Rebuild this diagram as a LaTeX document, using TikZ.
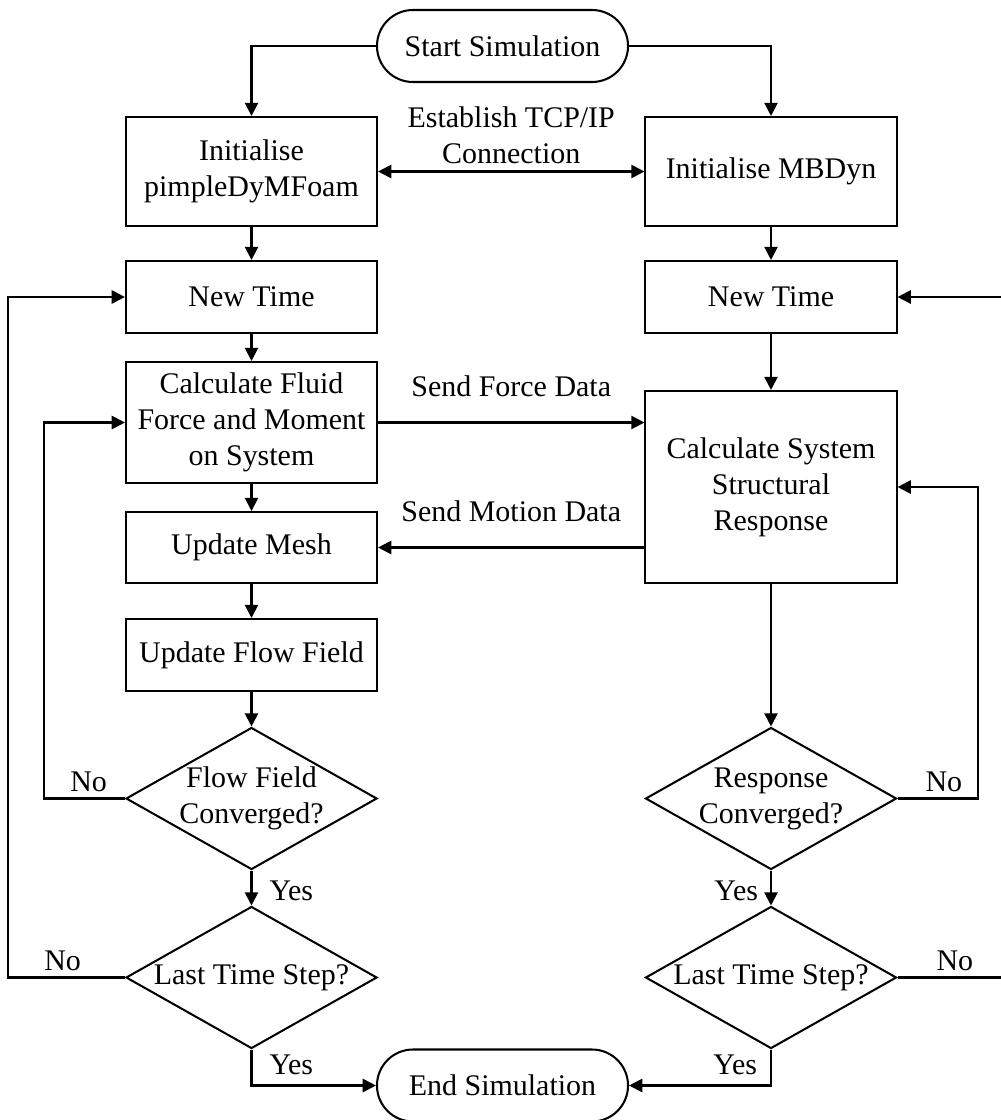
\documentclass[tikz,border=0pt]{standalone}
\usepackage{fontspec}
\setmainfont{Liberation Serif}
\usetikzlibrary{arrows.meta,shapes.geometric}

\begin{document}
\begin{tikzpicture}[x=0.025cm, y=-0.025cm,
        line width=1.45pt,
        font=\fontsize{21.3}{25.6}\selectfont,
        >={Triangle[length=0.33cm, width=0.33cm]},
        procbox/.style={draw, rectangle, align=center, inner sep=0pt, minimum width=6.275cm},
        termbox/.style={draw, rectangle, rounded corners=0.9cm, minimum width=6.275cm, minimum height=1.8cm},
        decbox/.style={draw, diamond, aspect=1.76, align=center, inner sep=-0.1cm, minimum width=6.275cm, minimum height=3.55cm},
        lbl/.style={inner sep=0pt, align=center}]
        % page size
        \path[use as bounding box, fill=white] (0,0) rectangle (1001,1120);
        \def\colL{251.5}
        \def\colR{771}
        \def\colM{502.5}

        % start and end
        \node[termbox] (start) at (\colM,46) {Start Simulation};
        \node[termbox] (stop) at (\colM,1085.5) {End Simulation};

        % fluid solver
        \node[procbox, minimum height=2.725cm] (initL) at (\colL,171.5) {Initialise\\pimpleDyMFoam};
        \node[procbox, minimum height=1.8cm] (timeL) at (\colL,297) {New Time};
        \node[procbox, minimum height=3.025cm] (fluid) at (\colL,422.5) {Calculate Fluid\\Force and Moment\\on System};
        \node[procbox, minimum height=1.775cm] (mesh) at (\colL,547.5) {Update Mesh};
        \node[procbox, minimum height=1.8cm] (flow) at (\colL,655) {Update Flow Field};
        \node[decbox] (convL) at (\colL,798.5) {Flow Field\\Converged?};
        \node[decbox] (lastL) at (\colL,977.5) {Last Time Step?};

        % structural solver
        \node[procbox, minimum height=2.725cm] (initR) at (\colR,171.5) {Initialise MBDyn};
        \node[procbox, minimum height=1.8cm] (timeR) at (\colR,297) {New Time};
        \node[procbox, minimum height=4.8cm] (solid) at (\colR,487) {Calculate System\\Structural\\Response};
        \node[decbox] (convR) at (\colR,798.5) {Response\\Converged?};
        \node[decbox] (lastR) at (\colR,977.5) {Last Time Step?};

        \draw[->] (start.west) -| (initL.north);
        \draw[->] (start.east) -| (initR.north);
        \draw[<->] (initL) -- (initR) node[lbl, midway, above=0.175cm] {Establish TCP/IP\\Connection};

        % left column
        \draw[->] (initL) -- (timeL);
        \draw[->] (timeL) -- (fluid);
        \draw[->] (fluid) -- (mesh);
        \draw[->] (mesh) -- (flow);
        \draw[->] (flow) -- (convL);
        \draw[->] (convL) -- (lastL) node[lbl, pos=1, anchor=south west, xshift=0.425cm, yshift=0.1cm] {Yes};

        % right column
        \draw[->] (initR) -- (timeR);
        \draw[->] (timeR) -- (solid);
        \draw[->] (solid) -- (convR);
        \draw[->] (convR) -- (lastR) node[lbl, pos=1, anchor=south east, xshift=-0.3cm, yshift=0.1cm] {Yes};

        % data exchange
        \draw[->] (fluid.east) -- (fluid.east -| solid.west) node[lbl, midway, above=0.625cm] {Send Force Data};
        \draw[->] (solid.west |- mesh.east) -- (mesh.east) node[lbl, midway, above=0.625cm] {Send Motion Data};

        % loops back
        \draw[->] (convL.west) node[lbl, anchor=south east, xshift=-0.425cm, yshift=0.15cm] {No} -- ++(-81,0) |- (fluid.west);
        \draw[->] (lastL.west) node[lbl, anchor=south east, xshift=-1.075cm, yshift=0.15cm] {No} -- ++(-117,0) |- (timeL.west);
        \draw[->] (convR.east) node[lbl, anchor=south west, xshift=0.675cm, yshift=0.15cm] {No} -- ++(80,0) |- (solid.east);
        \draw[->] (lastR.east) node[lbl, anchor=south west, xshift=0.95cm, yshift=0.15cm] {No} -- ++(104,0) |- (timeR.east);

        % to the end
        \draw[->] (lastL.south) |- (stop.west) node[lbl, pos=0.5, anchor=south west, xshift=0.425cm, yshift=0.25cm] {Yes};
        \draw[->] (lastR.south) |- (stop.east) node[lbl, pos=0.5, anchor=south east, xshift=-0.325cm, yshift=0.25cm] {Yes};
    \end{tikzpicture}
\end{document}
